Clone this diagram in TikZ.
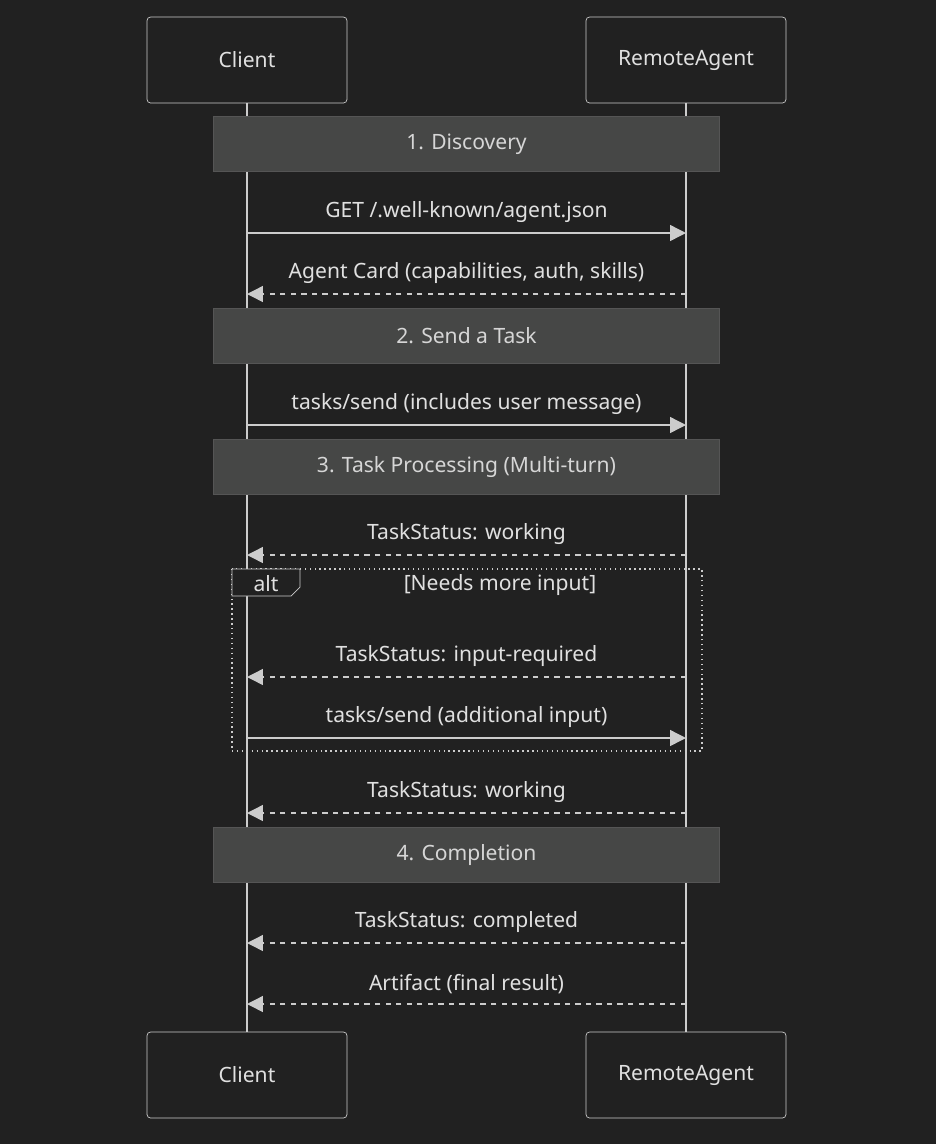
\documentclass[tikz,border=0pt]{standalone}
\usepackage{fontspec}
\setmainfont{Noto Sans}
\usetikzlibrary{positioning,arrows.meta}
\definecolor{bg}{HTML}{212121}
\definecolor{ln}{HTML}{CCCCCC}
\definecolor{notefill}{HTML}{464746}
\definecolor{notedraw}{HTML}{555555}
\definecolor{txt}{HTML}{E0E0E0}
\tikzset{%
	actor/.style    = {draw=ln, fill=bg, rounded corners=2pt, minimum width=4cm, minimum height=1.72cm, text=txt, font=\large},
	notebox/.style  = {draw=notedraw, fill=notefill, minimum width=10.12cm, minimum height=1.1cm, text=ln!80, font=\large},
	msg/.style      = {draw=ln, thick, -{Triangle[length=9pt,width=9pt]}},
	reply/.style    = {msg, dashed},
	label/.style    = {text=txt, font=\large, above=2pt},
}
\begin{document}
\begin{tikzpicture}[x=0.02cm,y=-0.02cm]
	\fill[bg] (0,0) rectangle (936,1144);
	% lifelines
	\draw[ln, thick] (247,103) -- (247,1032);
	\draw[ln, thick] (686,103) -- (686,1032);
	\node [actor] (ct) at (247,60) {Client};
	\node [actor] (rt) at (686,60) {RemoteAgent};
	\node [actor] (cb) at (247,1075) {Client};
	\node [actor] (rb) at (686,1075) {RemoteAgent};
	% phases
	\node [notebox] (n1) at (466.5,144) {1. Discovery};
	\node [notebox] (n2) at (466.5,336) {2. Send a Task};
	\node [notebox] (n3) at (466.5,467) {3. Task Processing (Multi-turn)};
	\node [notebox] (n4) at (466.5,855) {4. Completion};
	% message ends
	\foreach \y/\n in {233/a,294/b,425/c,555/d,677/e,738/f,813/g,943/h,1004/i} {
		\coordinate (c\n) at (247,\y);
		\coordinate (r\n) at (686,\y);
	}
	\draw[msg] (ca) -- node[label] {GET /.well-known/agent.json} (ra);
	\draw[reply] (rb) -- node[label] {Agent Card (capabilities, auth, skills)} (cb);
	\draw[msg] (cc) -- node[label] {tasks/send (includes user message)} (rc);
	\draw[reply] (rd) -- node[label] {TaskStatus: working} (cd);
	% alt frame
	\draw[ln, thick, dotted] (232,569) rectangle (702,751);
	\draw[ln, fill=bg] (232,569) -- (300,569) -- (300,587) -- (291,596) -- (232,596) -- cycle;
	\node [text=txt, font=\large] (alt) at (266,584) {alt};
	\node [text=txt, font=\large] (cond) at (500,585) {[Needs more input]};
	\draw[reply] (re) -- node[label] {TaskStatus: input-required} (ce);
	\draw[msg] (cf) -- node[label] {tasks/send (additional input)} (rf);
	\draw[reply] (rg) -- node[label] {TaskStatus: working} (cg);
	\draw[reply] (rh) -- node[label] {TaskStatus: completed} (ch);
	\draw[reply] (ri) -- node[label] {Artifact (final result)} (ci);
\end{tikzpicture}
\end{document}
